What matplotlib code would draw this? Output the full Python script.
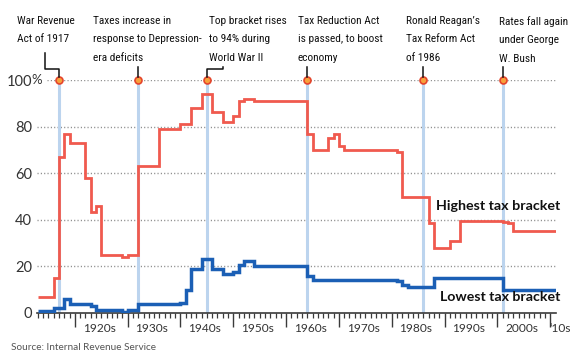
import matplotlib.pyplot as plt
from matplotlib import transforms, font_manager

# top marginal rate (highest bracket), value applies from the given year on
top_years = [1913, 1916, 1917, 1918, 1919, 1922, 1923, 1924, 1925, 1929, 1930,
             1932, 1936, 1940, 1942, 1944, 1946, 1948, 1950, 1951, 1952, 1954,
             1964, 1965, 1968, 1969, 1970, 1971, 1981, 1982, 1987, 1988, 1991,
             1993, 2001, 2002, 2003]
top_rates = [7, 15, 67, 77, 73, 58, 43.5, 46, 25, 24, 25,
             63, 79, 81.1, 88, 94, 86.45, 82.13, 84.36, 91, 92, 91,
             77, 70, 75.25, 77, 71.75, 70, 69.1, 50, 38.5, 28, 31,
             39.6, 39.1, 38.6, 35]

# lowest bracket
low_years = [1913, 1916, 1918, 1919, 1923, 1924, 1925, 1929, 1930, 1932, 1940,
             1941, 1942, 1944, 1946, 1948, 1950, 1951, 1952, 1954, 1964, 1965,
             1981, 1982, 1983, 1988, 2001]
low_rates = [1, 2, 6, 4, 3, 1.5, 1.125, 0.375, 1.125, 4, 4.4,
             10, 19, 23, 19, 16.6, 17.4, 20.4, 22.2, 20, 16, 14,
             13.8, 12, 11, 15, 10]
end_year = 2012

event_years = [1917, 1932, 1945, 1964, 1986, 2001]
event_texts = ["War Revenue\nAct of 1917",
               "Taxes increase in\nresponse to Depression-\nera deficits",
               "Top bracket rises\nto 94% during\nWorld War II",
               "Tax Reduction Act\nis passed, to boost\neconomy",
               "Ronald Reagan\u2019s\nTax Reform Act\nof 1986",
               "Rates fall again\nunder George\nW. Bush"]
text_left_px = [17, 93, 209, 298, 406, 499]

decades = list(range(1920, 2011, 10))
decade_labels = ["1920s", "1930s", "1940s", "1950s", "1960s", "1970s",
                 "1980s", "1990s", "2000s", "\u201810s"]
y_ticks = [0, 20, 40, 60, 80, 100]

RED = "#f05a4e"
BLUE = "#1b5fb5"
EVENT = "#bcd4ee"
W, H = 580, 364


def pick_narrow_font():
    # the original uses a condensed face; use one if the system has it
    prefs = ["Liberation Sans Narrow", "Roboto Condensed", "Noto Sans",
             "Open Sans"]
    found = {}
    for f in font_manager.fontManager.ttflist:
        if f.style != "normal" or f.weight not in (400, "normal", "regular"):
            continue
        narrow = ("condensed" in str(f.stretch) or "Narrow" in f.name
                  or "Condensed" in f.name)
        if narrow and f.name in prefs:
            found.setdefault(f.name, f.fname)
    for name in prefs:
        if name in found:
            return font_manager.FontProperties(fname=found[name])
    return font_manager.FontProperties(family="Lato", weight="medium")


fig = plt.figure(figsize=(W / 100, H / 100), dpi=100)
renderer = fig.canvas.get_renderer()
ax = fig.add_axes([37 / W, 51 / H, 519 / W, 233 / H])
ax.set_xlim(1912.83, 2011.1)
ax.set_ylim(0, 100)

# dotted grid, top one starts after the "%" sign
for v in y_ticks[1:]:
    xmin = 10 / 519 if v == 100 else 0
    ax.axhline(v, xmin=xmin, color="#8a8a8a", lw=1.0,
               linestyle=(0, (0.8, 1.6)), zorder=0)

ax.vlines(event_years, 0, 100, color=EVENT, lw=2.2, zorder=1)

ax.stairs(top_rates, top_years + [end_year], baseline=None,
          color=RED, lw=2, zorder=3)
ax.stairs(low_rates, low_years + [end_year], baseline=None,
          color=BLUE, lw=2.5, zorder=3)

ax.plot(event_years, [100] * len(event_years), "o", ms=5,
        mfc="#f7a23b", mec="#e5452c", mew=1.2, clip_on=False, zorder=6)

for s in ["top", "right", "left"]:
    ax.spines[s].set_visible(False)
ax.spines["bottom"].set_color("#3a3a3a")
ax.spines["bottom"].set_linewidth(1.2)

ax.set_xticks(decades)
ax.set_xticks(range(1913, 2011), minor=True)
ax.tick_params(axis="x", which="major", length=10, width=1.0,
               color="#3a3a3a", labelbottom=False)
ax.tick_params(axis="x", which="minor", length=3.8, width=0.9,
               color="#3a3a3a")
ax.set_yticks(y_ticks)
ax.set_yticklabels([str(v) for v in y_ticks])
ax.tick_params(axis="y", length=0, pad=3.6, labelsize=10.5,
               labelcolor="#333333")
for lab in ax.get_yticklabels():
    lab.set_fontfamily("Lato")
fig.text(31 / W, 1 - 80 / H, "%", ha="left", va="center", fontsize=9.5,
         family="Lato", color="#333333")

# decade labels sit inside each decade
xblend = transforms.blended_transform_factory(ax.transData, fig.transFigure)
for d, lab in zip(decades, decade_labels):
    if d == 2010:
        ax.text(d - 0.1, 1 - 329 / H, lab, transform=xblend, ha="left",
                va="center", fontsize=8.6, family="Lato", color="#333333")
    else:
        ax.text(d + 4.6, 1 - 329 / H, lab, transform=xblend, ha="center",
                va="center", fontsize=8.6, family="Lato", color="#333333")

# annotation font: fit size so the widest line is ~108 px, lines ~18 px apart
fp = pick_narrow_font()
probe = fig.text(0, 0, "response to Depression-", fontproperties=fp,
                 fontsize=10)
size = 10 * 108 / probe.get_window_extent(renderer).width
probe.remove()
heights = []
for txt, ls in [("lp", 1), ("lp\nlp", 1), ("lp\nlp", 2)]:
    probe = fig.text(0, 0, txt, fontproperties=fp, fontsize=size,
                     linespacing=ls)
    heights.append(probe.get_window_extent(renderer).height)
    probe.remove()
a = heights[2] - heights[1]
d = heights[1] - heights[0] - a
line_sp = (18.3 - d) / a

for txt, left in zip(event_texts, text_left_px):
    fig.text(left / W, 1 - 16 / H, txt, ha="left", va="top",
             fontproperties=fp, fontsize=size, color="#111111",
             linespacing=line_sp)

elbows = {1917: (-2.6, 53), 1945: (3.0, 66.7)}
for yr in event_years:
    if yr in elbows:
        dx, ytop = elbows[yr]
        xs = [yr + dx, yr + dx, yr, yr]
        ys = [ytop, 69, 69, 77]
    else:
        xs = [yr, yr]
        ys = [67, 77]
    ax.plot(xs, [1 - y / H for y in ys], color="#111111", lw=1.1,
            transform=xblend, clip_on=False, zorder=6)

ax.text(1 + 4 / 519, 1 - (206 - 80) / 233, "Highest tax bracket",
        transform=ax.transAxes, ha="right", va="center", fontsize=10.3,
        fontweight="bold", family="Lato", color="#111111", clip_on=False)
ax.text(1 + 4 / 519, 1 - (297 - 80) / 233, "Lowest tax bracket",
        transform=ax.transAxes, ha="right", va="center", fontsize=10.2,
        fontweight="bold", family="Lato", color="#111111", clip_on=False)

fig.text(11 / W, 1 - 347 / H, "Source: Internal Revenue Service",
         ha="left", va="center", fontsize=7.2, family="Lato", color="#555555")

fig.savefig("out.png", dpi=100)
